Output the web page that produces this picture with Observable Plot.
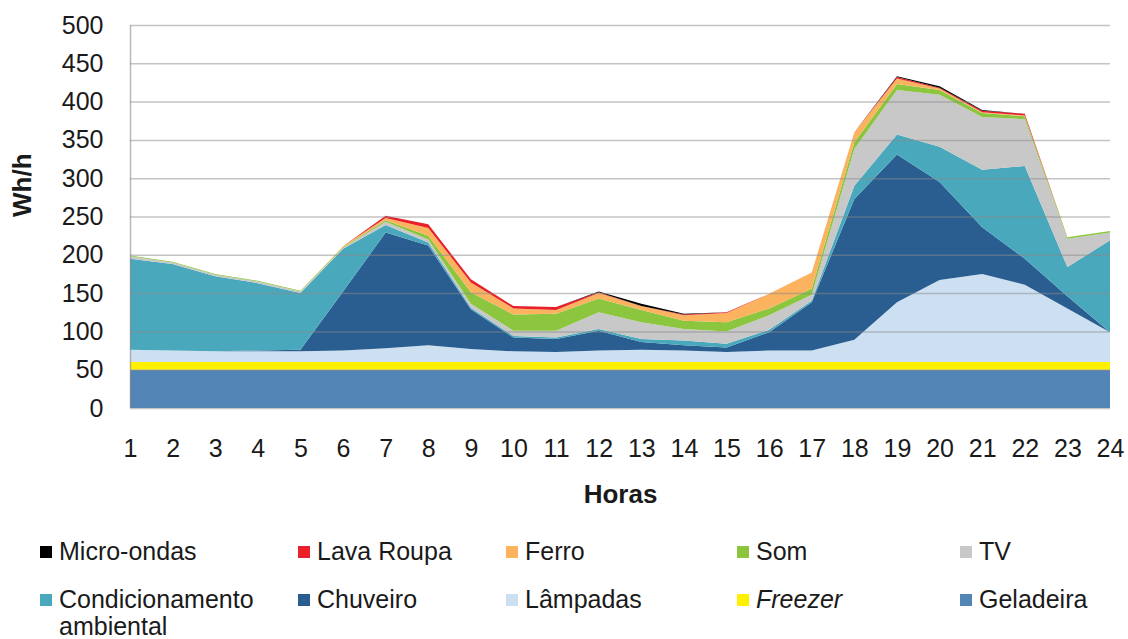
<!DOCTYPE html>
<html>
<head>
<meta charset="utf-8">
<script src="https://cdn.jsdelivr.net/npm/d3@7"></script>
<script src="https://cdn.jsdelivr.net/npm/@observablehq/plot@0.6"></script>
<style>
  body { margin: 0; background: #fff; font-family: "Liberation Sans", Arial, sans-serif; }
  #wrap { position: relative; width: 1128px; height: 639px; }
  #legend { position: absolute; left: 0; top: 0; width: 1128px; height: 639px; pointer-events: none; }
  .item { position: absolute; font-size: 25px; line-height: 27px; color: #1a1a1a; }
  .sw { position: absolute; width: 12px; height: 12px; }
</style>
</head>
<body>
<div id="wrap"><div id="chart"></div><div id="legend"></div></div>
<script>
const hours = [1,2,3,4,5,6,7,8,9,10,11,12,13,14,15,16,17,18,19,20,21,22,23,24];
const geladeira       = [50,50,50,50,50,50,50,50,50,50,50,50,50,50,50,50,50,50,50,50,50,50,50,50];
const freezer         = [10,10,10,10,10,10,10,10,10,10,10,10,10,10,10,10,10,10,10,10,10,10,10,10];
const lampadas        = [16,15,14,14,14,15,18,22,17,14,13,15,16,15,13,15,15,29,78,107,115,101,70,39];
const chuveiro        = [0,0,0,1,2,77,151,130,52,18,17,26,10,7,6,24,63,184,193,128,61,34,16,0];
const condicionamento = [119,113,98,88,74,56,10,4,2,2,2,2,4,6,5,3,2,17,26,46,75,121,38,120];
const tv              = [3,2,2,2,2,1,4,4,5,7,9,22,22,15,16,19,8,48,58,68,69,61,37,10];
const som             = [1,1,1,1,1,1,2,5,15,21,22,18,16,11,12,9,8,9,8,6,5,4,2,2];
const ferro           = [0,0,0,0,0,1,3,10,13,8,5,7,5,7,12,19,21,13,7,2,1,1,0,0];
const lavaRoupa       = [0,0,0,0,0,0,3,5,4,3,4,1,0,1,1,0,0,0,2,1,2,2,0,0];
const microondas      = [0,0,0,0,0,0,0,0,0,0,0,1,3,1,0,0,0,0,1,2,1,0,0,0];
const yTicks = [0,50,100,150,200,250,300,350,400,450,500];

// bottom-to-top stacking order
const seriesNames = ["Geladeira","Freezer","Lâmpadas","Chuveiro","Condicionamento ambiental","TV","Som","Ferro","Lava Roupa","Micro-ondas"];
const seriesValues = [geladeira,freezer,lampadas,chuveiro,condicionamento,tv,som,ferro,lavaRoupa,microondas];
const seriesColors = ["#5285b5","#fff000","#cde0f2","#2a5e91","#4aa8bd","#c8c8c8","#8cc63f","#fbb35f","#e8202a","#000000"];

const data = [];
seriesNames.forEach((s, i) => hours.forEach((h, j) => data.push({hour: h, series: s, value: seriesValues[i][j]})));

const chart = Plot.plot({
  width: 1128,
  height: 530,
  marginLeft: 130,
  marginRight: 18,
  marginTop: 25,
  marginBottom: 122,
  style: {fontFamily: "'Liberation Sans', Arial, sans-serif", background: "#fff"},
  x: {domain: [1, 24]},
  y: {domain: [0, 500]},
  color: {domain: seriesNames, range: seriesColors},
  marks: [
    Plot.areaY(data, {x: "hour", y: "value", z: "series", fill: "series", order: seriesNames, curve: "linear"}),
    Plot.ruleY(yTicks, {stroke: "#8a8a8a", strokeOpacity: 0.5, strokeWidth: 1.5}),
    Plot.ruleX([1], {stroke: "#8a8a8a", strokeOpacity: 0.6, strokeWidth: 1.5}),
    Plot.axisY({ticks: yTicks, tickSize: 0, tickPadding: 27, fontSize: 25, label: null, fill: "#1a1a1a"}),
    Plot.axisX({ticks: hours, tickSize: 0, tickPadding: 31, fontSize: 25, label: null, fill: "#1a1a1a", tickFormat: d => String(d)}),
    Plot.text(["Horas"], {frameAnchor: "bottom", dy: 94, fontSize: 26, fontWeight: "bold", fill: "#1a1a1a"}),
    Plot.text(["Wh/h"], {frameAnchor: "left", dx: -108, dy: 0, rotate: -90, fontSize: 26, fontWeight: "bold", fill: "#1a1a1a"})
  ]
});
document.getElementById("chart").appendChild(chart);

// legend
const legendOrder = ["Micro-ondas","Lava Roupa","Ferro","Som","TV","Condicionamento ambiental","Chuveiro","Lâmpadas","Freezer","Geladeira"];
const colX = [40, 298, 506, 737, 960];
const rowY = [552, 600];
const legend = document.getElementById("legend");
legendOrder.forEach((name, k) => {
  const col = k % 5, row = Math.floor(k / 5);
  const color = seriesColors[seriesNames.indexOf(name)];
  const sw = document.createElement("div");
  sw.className = "sw";
  sw.style.left = colX[col] + "px";
  sw.style.top = (rowY[row] - 6) + "px";
  sw.style.background = color;
  legend.appendChild(sw);
  const it = document.createElement("div");
  it.className = "item";
  it.style.left = (colX[col] + 19) + "px";
  it.style.top = (rowY[row] - 14) + "px";
  if (name === "Condicionamento ambiental") {
    it.innerHTML = "Condicionamento<br>ambiental";
  } else {
    it.textContent = name;
  }
  if (name === "Freezer") it.style.fontStyle = "italic";
  legend.appendChild(it);
});
</script>
</body>
</html>
